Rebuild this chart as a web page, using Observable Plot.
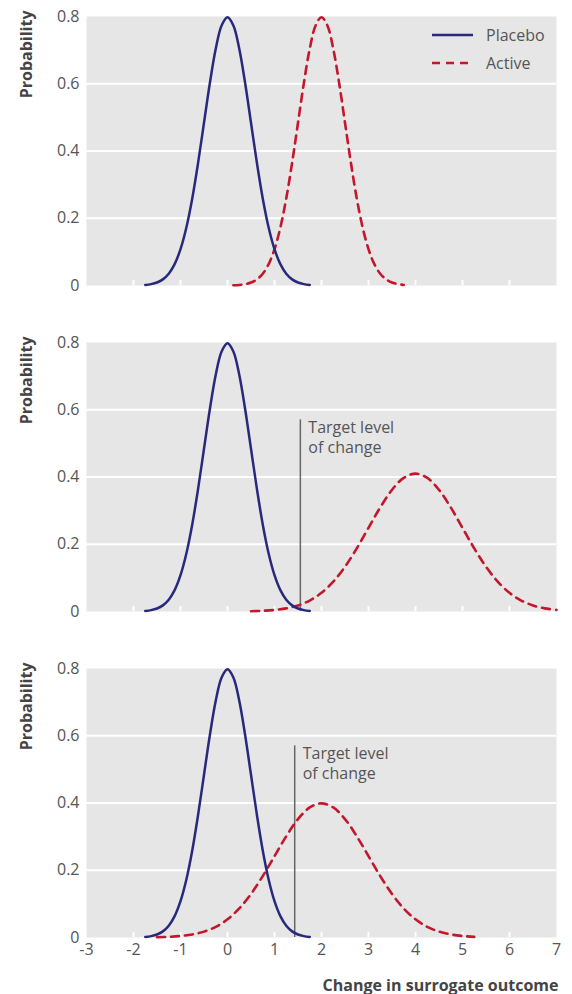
<!DOCTYPE html>
<html>
<head>
<meta charset="utf-8">
<script src="https://cdn.jsdelivr.net/npm/d3@7"></script>
<script src="https://cdn.jsdelivr.net/npm/@observablehq/plot@0.6"></script>
<style>
  body { margin: 0; background: #fff; }
  #wrap { position: relative; width: 572px; font-family: "Open Sans", sans-serif; }
  #wrap svg { display: block; }
  .legend { position: absolute; left: 432px; font-size: 16px; color: #555; display: flex; align-items: center; }
  .legend svg { margin-right: 13px; }
</style>
</head>
<body>
<div id="wrap"></div>
<script>
// ---- data ----
const xTicks = [-3, -2, -1, 0, 1, 2, 3, 4, 5, 6, 7];
const innerTicks = [-2, -1, 0, 1, 2, 3, 4, 5, 6];
const yTicks = [0, 0.2, 0.4, 0.6, 0.8];
const gridY = [0.2, 0.4, 0.6];

const placeboX = [-1.75,-1.625,-1.5,-1.375,-1.25,-1.125,-1,-0.875,-0.75,-0.625,-0.5,-0.375,-0.25,-0.125,0,
  0.125,0.25,0.375,0.5,0.625,0.75,0.875,1,1.125,1.25,1.375,1.5,1.625,1.75];
const placeboY = [0.0017,0.0041,0.0089,0.0182,0.035,0.0635,0.108,0.1726,0.259,0.3653,0.4839,0.6023,0.7041,0.7734,0.7979,
  0.7734,0.7041,0.6023,0.4839,0.3653,0.259,0.1726,0.108,0.0635,0.035,0.0182,0.0089,0.0041,0.0017];

const active1X = [0.125,0.25,0.375,0.5,0.625,0.75,0.875,1,1.125,1.25,1.375,1.5,1.625,1.75,1.875,2,
  2.125,2.25,2.375,2.5,2.625,2.75,2.875,3,3.125,3.25,3.375,3.5,3.625,3.75];
const active1Y = [0.0007,0.0017,0.0041,0.0089,0.0182,0.035,0.0635,0.108,0.1726,0.259,0.3653,0.4839,0.6023,0.7041,0.7734,0.7979,
  0.7734,0.7041,0.6023,0.4839,0.3653,0.259,0.1726,0.108,0.0635,0.035,0.0182,0.0089,0.0041,0.0017];

const active2X = [0.5,0.75,1,1.25,1.5,1.75,2,2.25,2.5,2.75,3,3.25,3.5,3.75,4,
  4.25,4.5,4.75,5,5.25,5.5,5.75,6,6.25,6.5,6.75,7];
const active2Y = [0.0009,0.0021,0.0046,0.0093,0.018,0.0326,0.0555,0.0887,0.1331,0.1877,0.2487,0.3095,0.3618,0.3974,0.41,
  0.3974,0.3618,0.3095,0.2487,0.1877,0.1331,0.0887,0.0555,0.0326,0.018,0.0093,0.0046];

const active3X = [-1.5,-1.25,-1,-0.75,-0.5,-0.25,0,0.25,0.5,0.75,1,1.25,1.5,1.75,2,
  2.25,2.5,2.75,3,3.25,3.5,3.75,4,4.25,4.5,4.75,5,5.25];
const active3Y = [0.0009,0.002,0.0044,0.0091,0.0175,0.0317,0.054,0.0863,0.1295,0.1827,0.242,0.3011,0.3521,0.3867,0.3989,
  0.3867,0.3521,0.3011,0.242,0.1827,0.1295,0.0863,0.054,0.0317,0.0175,0.0091,0.0044,0.002];

const targetX = [null, 1.55, 1.43];
const targetTop = 0.57;
const targetLabel = "Target level\nof change";

const seriesNames = ["Placebo", "Active"];
const colors = { Placebo: "#27297d", Active: "#c2172c" };

// ---- drawing ----
const W = 572, plotH = 269, mTop = 16, mLeft = 86, mRight = 16;
const heights = [326, 326, 342];
const actives = [[active1X, active1Y], [active2X, active2Y], [active3X, active3Y]];
const wrap = document.getElementById("wrap");
const FONT = "'Open Sans', sans-serif";

actives.forEach(([ax, ay], i) => {
  const last = i === 2;
  const H = heights[i];
  const placebo = placeboX.map((x, k) => ({x, y: placeboY[k]}));
  const active = ax.map((x, k) => ({x, y: ay[k]}));
  const marks = [
    Plot.frame({fill: "#e6e6e6", stroke: null}),
    Plot.ruleY(gridY, {stroke: "white", strokeWidth: 2}),
    Plot.ruleX(innerTicks, {stroke: "white", strokeWidth: 2, insetTop: plotH - 5}),
    Plot.axisY(yTicks, {tickSize: 0, tickPadding: 7, label: null,
      tickFormat: d => d === 0 ? "0" : d.toFixed(1), fill: "#555", fontSize: 16}),
    Plot.text(["Probability"], {text: d => d, frameAnchor: "top-left", rotate: -90,
      textAnchor: "end", lineAnchor: "middle", dx: -60, dy: -6,
      fontWeight: "bold", fontSize: 16, fill: "#444"}),
  ];
  if (last) {
    marks.push(Plot.axisX(xTicks, {tickSize: 0, tickPadding: 6, label: null,
      tickFormat: d => String(d), fill: "#555", fontSize: 16}));
    marks.push(Plot.text(["Change in surrogate outcome"], {text: d => d, frameAnchor: "bottom-right",
      textAnchor: "end", lineAnchor: "bottom", dx: 2, dy: 53,
      fontWeight: "bold", fontSize: 16, fill: "#444"}));
  } else {
    marks.push(Plot.axisX({ticks: [], label: null}));
  }
  if (targetX[i] != null) {
    marks.push(Plot.ruleX([targetX[i]], {x: d => d, y1: 0, y2: targetTop, stroke: "#666", strokeWidth: 1.5}));
    marks.push(Plot.text([targetX[i]], {x: d => d, y: targetTop, text: () => targetLabel,
      textAnchor: "start", lineAnchor: "top", dx: 8, fontSize: 16, fill: "#555", lineHeight: 1.2}));
  }
  marks.push(Plot.line(active, {x: "x", y: "y", stroke: colors.Active, strokeWidth: 2.6,
    strokeDasharray: "8,6", curve: "catmull-rom"}));
  marks.push(Plot.line(placebo, {x: "x", y: "y", stroke: colors.Placebo, strokeWidth: 2.5, curve: "catmull-rom"}));

  const svg = Plot.plot({
    width: W, height: H,
    marginTop: mTop, marginLeft: mLeft, marginRight: mRight, marginBottom: H - mTop - plotH,
    x: {domain: [-3, 7]},
    y: {domain: [0, 0.8]},
    style: {fontFamily: FONT, fontSize: "16px", color: "#555", background: "white", overflow: "visible"},
    marks
  });
  wrap.appendChild(svg);
});

// legend (in top panel)
seriesNames.forEach((name, k) => {
  const div = document.createElement("div");
  div.className = "legend";
  div.style.top = (35 + 28 * k - 10) + "px";
  div.style.height = "20px";
  const dash = name === "Active" ? 'stroke-dasharray="8,6"' : "";
  div.innerHTML = `<svg width="41" height="6"><line x1="0" x2="41" y1="3" y2="3" stroke="${colors[name]}" stroke-width="2.5" ${dash}/></svg><span>${name}</span>`;
  wrap.appendChild(div);
});
</script>
</body>
</html>
